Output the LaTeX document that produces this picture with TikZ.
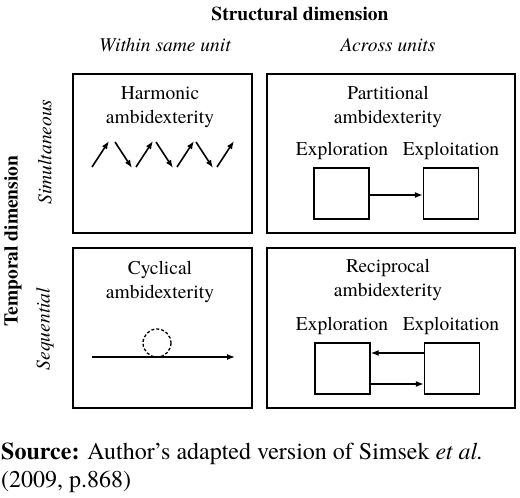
\documentclass[tikz,border=0pt]{standalone}
\usepackage{fontspec}
\setmainfont{TeX Gyre Termes}
\usetikzlibrary{arrows.meta,calc}
\begin{document}
\begin{tikzpicture}[x=1pt,y=-1pt,
  txt/.style={font=\fontsize{19.5}{24.5}\selectfont,inner sep=0pt,align=center},
  outer/.style={draw,line width=2.4pt,inner sep=0pt},
  unitbox/.style={draw,line width=1.3pt,minimum width=55pt,minimum height=51pt,inner sep=0pt},
  arr/.style={line width=1.3pt,-{Latex[length=8pt,width=6pt]}},
  zig/.style={line width=1.6pt,-{Latex[length=8pt,width=6pt]}}]
\useasboundingbox (0,0) rectangle (520,498);
% outer boxes
\draw[outer] (73,74) rectangle (252,233);
\draw[outer] (267,74) rectangle (515,233);
\draw[outer] (73,248) rectangle (252,408);
\draw[outer] (267,248) rectangle (515,408);
% headers
\node[txt,font=\fontsize{19.5}{24.5}\selectfont\bfseries] (sd) at (300,14) {Structural dimension};
\node[txt,font=\fontsize{19.5}{24.5}\selectfont\itshape] (wsu) at (165,45) {Within same unit};
\node[txt,font=\fontsize{19.5}{24.5}\selectfont\itshape] (au) at (388,45) {Across units};
\node[txt,font=\fontsize{19.5}{24.5}\selectfont\bfseries,rotate=90] (td) at (13,241) {Temporal dimension};
\node[txt,font=\fontsize{19.5}{24.5}\selectfont\itshape,rotate=90] (sim) at (45,152) {Simultaneous};
\node[txt,font=\fontsize{19.5}{24.5}\selectfont\itshape,rotate=90] (seq) at (45,329) {Sequential};
% harmonic
\node[txt] (harm) at (160,107) {Harmonic\\ambidexterity};
\foreach \i/\x in {0/92,1/136,2/177,3/217} {
  \coordinate (u\i s) at (\x,167);
  \coordinate (u\i e) at ($(\x,167)+(17,-26)$);
  \draw[zig] (u\i s) -- (u\i e);
}
\foreach \i/\x in {0/115,1/156,2/196} {
  \coordinate (d\i s) at (\x,142);
  \coordinate (d\i e) at ($(\x,142)+(17,26)$);
  \draw[zig] (d\i s) -- (d\i e);
}
% partitional
\node[txt] (part) at (388,107) {Partitional\\ambidexterity};
\node[txt] (exl1) at (342,151) {Exploration};
\node[txt] (eil1) at (451,151) {Exploitation};
\node[unitbox] (ex1) at (341.5,193.5) {};
\node[unitbox] (ei1) at (451,193.5) {};
\draw[arr] (ex1.east |- 0,195) -- (ei1.west |- 0,195);
% cyclical
\node[txt] (cyc) at (160,282) {Cyclical\\ambidexterity};
\draw[line width=1.3pt,dashed,dash pattern=on 3pt off 2pt] (157,343) circle[radius=14];
\coordinate (cs) at (92,357);
\coordinate (ce) at (235,357);
\draw[arr] (cs) -- (ce);
% reciprocal
\node[txt] (rec) at (388,280) {Reciprocal\\ambidexterity};
\node[txt] (exl2) at (342,326) {Exploration};
\node[txt] (eil2) at (451,326) {Exploitation};
\node[unitbox] (ex2) at (342.5,368.5) {};
\node[unitbox] (ei2) at (452,368.5) {};
\draw[arr] (ei2.west |- 0,353) -- (ex2.east |- 0,353);
\draw[arr] (ex2.east |- 0,384) -- (ei2.west |- 0,384);
% source
\node[inner sep=0pt,align=left,anchor=base west,font=\fontsize{24}{28}\selectfont] (src) at (1,487) {\textbf{Source:} Author’s adapted version of Simsek \textit{et al.}\\(2009, p.868)};
\end{tikzpicture}
\end{document}
